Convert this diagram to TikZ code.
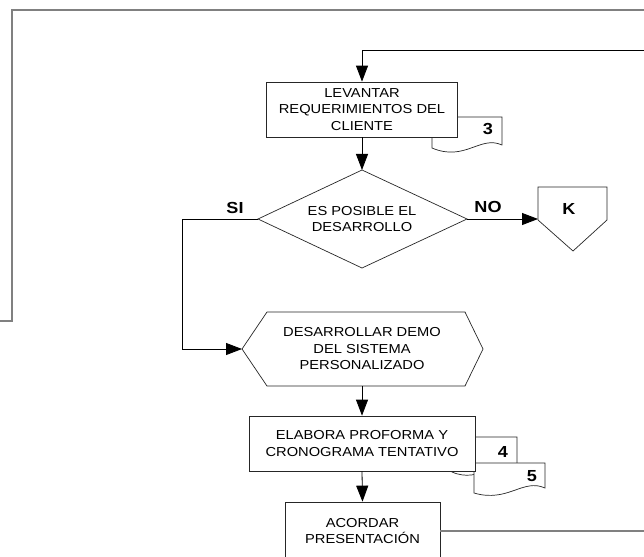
\documentclass[tikz,border=0pt]{standalone}
\usepackage{fontspec}
\setmainfont{Liberation Sans}[FakeStretch=1.13]
\usetikzlibrary{arrows.meta}
\begin{document}
\begin{tikzpicture}[x=1pt,y=-1pt,
  box/.style={draw=black!85, fill=white, line width=0.7pt, align=center, inner sep=0pt,
    font=\fontsize{13}{16.5}\selectfont},
  txt/.style={align=center, inner sep=0pt, font=\fontsize{13}{16.5}\selectfont},
  shp/.style={draw=black!85, fill=white, line width=0.7pt},
  conn/.style={draw=black, line width=0.8pt},
  arr/.style={conn, -{Triangle[length=16pt,width=12pt]}},
  gline/.style={draw=black!50, line width=1.2pt},
  lbl/.style={inner sep=0pt, font=\bfseries\fontsize{16}{18}\selectfont}]
\useasboundingbox (0,0) rectangle (644,556);

% outer gray frame
\coordinate (fL) at (0,321);
\coordinate (fC1) at (12,321);
\coordinate (fC2) at (12,10);
\coordinate (fR) at (644,10);
\draw[gline] (fL) -- (fC1) -- (fC2) -- (fR);

% documents (behind boxes)
\draw[shp] (432,117) -- (502,117) -- (502,145) .. controls (480,135) and (465,162) .. (432,148) -- cycle;
\node[lbl] (d3) at (488,129) {3};
\draw[shp] (452,437) -- (517,437) -- (517,468) .. controls (495,458) and (480,484) .. (452,472) -- cycle;
\node[lbl] (d4) at (503,452) {4};
\draw[shp] (474,463) -- (545,463) -- (545,488) .. controls (523,478) and (508,503) .. (474,493) -- cycle;
\node[lbl] (d5) at (532,476) {5};

% boxes
\node[box, minimum width=191, minimum height=55] (lev) at (362,109.5)
  {LEVANTAR\\REQUERIMIENTOS DEL\\CLIENTE};

% diamond
\coordinate (dW) at (258,219);
\coordinate (dN) at (362,170);
\coordinate (dE) at (467,219);
\coordinate (dS) at (362,268);
\draw[shp] (dW) -- (dN) -- (dE) -- (dS) -- cycle;
\node[txt] (dtext) at (362,219) {ES POSIBLE EL\\DESARROLLO};

% off-page connector K
\coordinate (Kw) at (538,219);
\draw[shp] (538,187) -- (607,187) -- (607,220) -- (573,251) -- (538,220) -- cycle;
\node[lbl] (K) at (569,209) {K};

% hexagon
\coordinate (hW) at (242,349);
\coordinate (hS) at (362,386);
\draw[shp] (hW) -- (267,312) -- (465,312) -- (483,349) -- (465,386) -- (267,386) -- cycle;
\node[txt] (htext) at (362,349) {DESARROLLAR DEMO\\DEL SISTEMA\\PERSONALIZADO};

\node[box, minimum width=226, minimum height=55] (elab) at (362,443.5)
  {ELABORA PROFORMA Y\\CRONOGRAMA TENTATIVO};
\node[box, minimum width=155, minimum height=58] (acor) at (362.5,531)
  {ACORDAR\\PRESENTACIÓN};

% labels
\node[lbl] (si) at (235,208) {SI};
\node[lbl] (no) at (488,207) {NO};

% connectors
\coordinate (loopR) at (644,50);
\draw[arr] (loopR) -| (lev.north);
\draw[arr] (lev.south) -- (dN);
\coordinate (siC) at (182,219);
\draw[arr] (dW) -- (siC) |- (hW);
\draw[arr] (dE) -- (Kw);
\draw[arr] (hS) -- (elab.north);
\draw[arr] (elab.south) -- (acor.north);
\coordinate (acR) at (644,531);
\draw[gline] (acor.east) -- (acR);
\end{tikzpicture}
\end{document}
